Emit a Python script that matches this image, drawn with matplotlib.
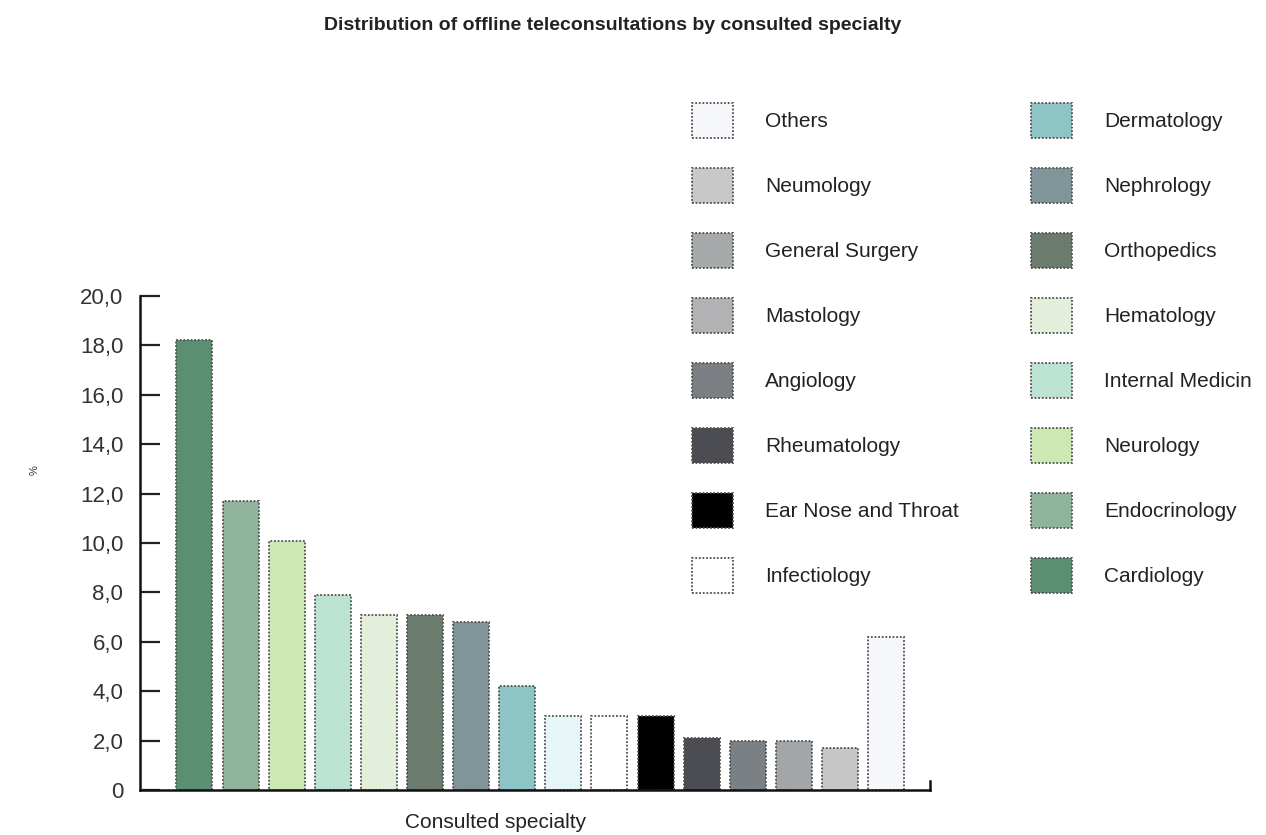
import matplotlib
matplotlib.use("Agg")
import matplotlib.pyplot as plt
from matplotlib.patches import Patch
from matplotlib.ticker import FixedLocator, FuncFormatter

plt.rcParams['font.family'] = ['Liberation Sans', 'DejaVu Sans']

# ---- data (bar order, left to right) ----
categories = ["Cardiology", "Endocrinology", "Neurology", "Internal Medicin", "Hematology",
              "Orthopedics", "Nephrology", "Dermatology", "Infectiology", "Ear Nose and Throat",
              "Rheumatology", "Angiology", "Mastology", "General Surgery", "Neumology", "Others"]
values = [18.2, 11.7, 10.1, 7.9, 7.1, 7.1, 6.8, 4.2, 3.0, 3.0, 3.0, 2.1, 2.0, 2.0, 1.7, 6.2]
bar_colors = ["#5b8f71", "#8fb39b", "#cce9b4", "#bce2d2", "#e3eedb", "#6b7b6d", "#80959a",
              "#8dc5c6", "#e6f6f8", "#ffffff", "#000000", "#4c4d53", "#7b8084", "#a2a6a8",
              "#c6c6c6", "#f5f7fb"]

# legend entries (as printed in the legend, two columns)
legend_left = ["Others", "Neumology", "General Surgery", "Mastology", "Angiology",
               "Rheumatology", "Ear Nose and Throat", "Infectiology"]
legend_left_colors = ["#f5f7fb", "#c8c8c8", "#a6aaaa", "#b2b2b4", "#7b7e82",
                      "#4c4d53", "#000000", "#ffffff"]
legend_right = ["Dermatology", "Nephrology", "Orthopedics", "Hematology", "Internal Medicin",
                "Neurology", "Endocrinology", "Cardiology"]
legend_right_colors = ["#8dc5c6", "#80959a", "#6b7b6d", "#e3eedb", "#bce2d2",
                       "#cce9b4", "#8fb39b", "#5b8f71"]

yticks = [0, 2, 4, 6, 8, 10, 12, 14, 16, 18, 20]

title = "Distribution of offline teleconsultations by consulted specialty"
xlabel = "Consulted specialty"
ylabel = "%"

# ---- figure ----
W, H = 1266, 835
fig = plt.figure(figsize=(W / 100, H / 100), dpi=100)
ax = fig.add_axes([140 / W, 1 - 790 / H, (930 - 140) / W, (790 - 296) / H])

x = list(range(len(categories)))
ax.bar(x, values, width=0.78, color=bar_colors, edgecolor="#505050",
       linewidth=1.3, linestyle=(0, (1, 1)))

ax.set_xlim(-1.18, 15.95)
ax.set_ylim(0, 20)
ax.yaxis.set_major_locator(FixedLocator(yticks))
ax.yaxis.set_major_formatter(FuncFormatter(lambda v, p: "0" if v == 0 else f"{v:.1f}".replace(".", ",")))
ax.set_xticks([])
ax.tick_params(axis="y", direction="in", length=14.5, width=1.6, color="#222222",
               labelsize=16, labelcolor="#333333", pad=12)

ax.spines["top"].set_visible(False)
for s in ["left", "bottom", "right"]:
    ax.spines[s].set_linewidth(1.8)
ax.spines["right"].set_bounds(0, 0.35)
for s in ax.spines.values():
    s.set_color("#111111")

fig.text(496 / W, 1 - 823 / H, xlabel, fontsize=15, color="#222222", ha="center", va="center")
fig.text(35 / W, 1 - 470 / H, ylabel, fontsize=8, rotation=90, ha="center", va="center",
         color="#333333")
fig.text(613 / W, 1 - 25 / H, title, fontsize=14, fontweight="bold", ha="center", va="center",
         color="#222222")

fs = 15
px = fs * 100 / 72
def make_legend(labels, colors, x0):
    handles = [Patch(facecolor=c, edgecolor="#505050", linewidth=1.3, linestyle=(0, (1, 1)))
               for c in colors]
    leg = fig.legend(handles, labels, loc="upper left",
                     bbox_to_anchor=(x0 / W, 1 - 103 / H), bbox_transform=fig.transFigure,
                     frameon=False, fontsize=fs, borderpad=0, borderaxespad=0,
                     handlelength=41 / px, handleheight=37 / px * 1.23,
                     handletextpad=32 / px,
                     labelspacing=30.3 / px, labelcolor="#222222")
    return leg

make_legend(legend_left, legend_left_colors, 692)
make_legend(legend_right, legend_right_colors, 1031)

fig.savefig("out.png", dpi=100)
